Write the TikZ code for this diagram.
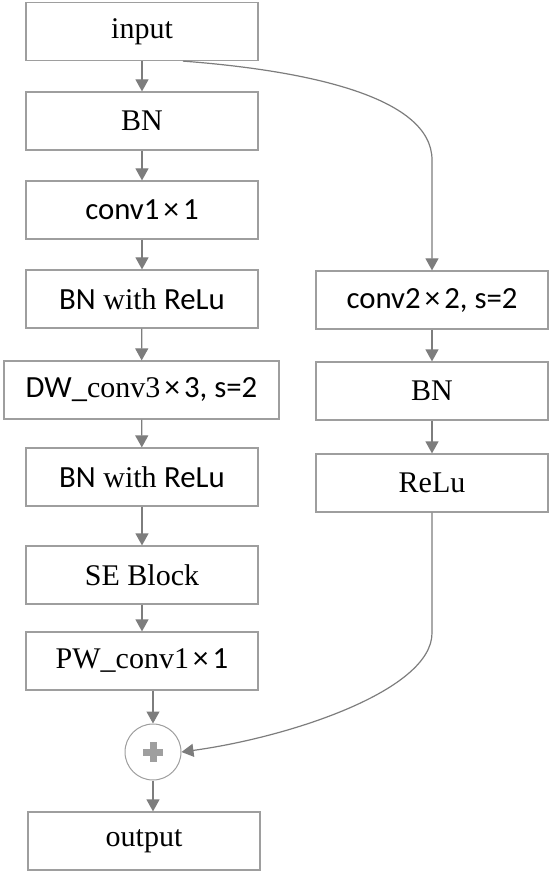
\documentclass[tikz,border=0pt]{standalone}
\usepackage{fontspec}
\setmainfont{Liberation Serif}
\setsansfont[Scale=1.14]{Carlito}
\usetikzlibrary{arrows.meta}
\definecolor{boxgray}{RGB}{158,158,158}
\definecolor{arrgray}{RGB}{125,125,125}

\begin{document}
\begin{tikzpicture}[x=1pt,y=-1pt,
	box/.style={draw=boxgray, line width=1.2pt, minimum width=232pt, minimum height=58pt, inner sep=0pt, font=\fontsize{30}{34}\selectfont},
	sbox/.style={box, font=\sffamily\fontsize{27}{32}\selectfont},
	arr/.style={draw=arrgray, line width=1.2pt, -{Triangle[width=13pt,length=12pt]}},
	addnode/.style={circle, draw=boxgray, line width=1pt, minimum size=56pt, inner sep=0pt}]

	\newcommand{\sfpart}[1]{{\sffamily\fontsize{27}{32}\selectfont #1}}

	\useasboundingbox (0,0) rectangle (550,874);

	% left branch
	\node[box]  (input)  at (142,31.5) {input};
	\node[box]  (bn1)    at (142,121)  {BN};
	\node[sbox] (conv1)  at (142,210)  {conv1$\,$×$\,$1};
	\node[box]  (bnr1)   at (142,299)  {\sfpart{BN} with \sfpart{ReLu}};
	\node[box, minimum width=275pt] (dw) at (141.5,390) {\sfpart{DW\_}conv3\sfpart{$\,$×$\,$3, s=2}};
	\node[box]  (bnr2)   at (142,477)  {\sfpart{BN} with \sfpart{ReLu}};
	\node[box]  (se)     at (142,575)  {SE Block};
	\node[box]  (pw)     at (142,661)  {PW\_conv1\sfpart{$\,$×$\,$1}};
	\node[addnode] (add) at (153,752)  {};
	\node[box]  (output) at (144,841)  {output};

	% right branch
	\node[sbox] (conv2)  at (432,300)  {conv2$\,$×$\,$2, s=2};
	\node[box]  (bn2)    at (432,391)  {BN};
	\node[box]  (relu)   at (432,483)  {ReLu};

	% plus sign
	\fill[gray!75] ([xshift=-10pt,yshift=-3.5pt]add.center) rectangle ([xshift=10pt,yshift=3.5pt]add.center);
	\fill[gray!75] ([xshift=-3.5pt,yshift=-10pt]add.center) rectangle ([xshift=3.5pt,yshift=10pt]add.center);

	\draw[arr] (input) -- (bn1);
	\draw[arr] (bn1) -- (conv1);
	\draw[arr] (conv1) -- (bnr1);
	\draw[arr] (bnr1) -- (dw);
	\draw[arr] (dw) -- (bnr2);
	\draw[arr] (bnr2) -- (se);
	\draw[arr] (se) -- (pw);
	\draw[arr] (pw.south -| add) -- (add.north);
	\draw[arr] (add.south) -- (add.south |- output.north);

	\draw[arr] (conv2) -- (bn2);
	\draw[arr] (bn2) -- (relu);

	% shortcut
	\coordinate (bendA) at (432,160);
	\coordinate (bendB) at (432,633);
	\draw[arr] ([xshift=41pt]input.south) .. controls (300,70) and (432,95) .. (bendA) -- (conv2.north);
	\draw[arr] (relu.south) -- (bendB) .. controls (432,690) and (291,737) .. (add.east);

\end{tikzpicture}
\end{document}
